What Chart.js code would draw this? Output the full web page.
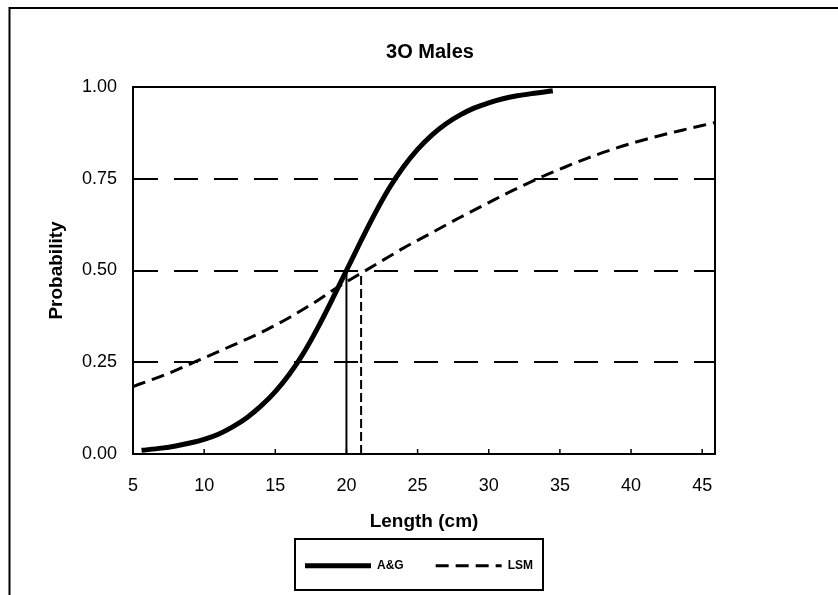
<!DOCTYPE html>
<html>
<head>
<meta charset="utf-8">
<script src="https://cdn.jsdelivr.net/npm/chart.js@4"></script>
<style>
  html, body { margin: 0; padding: 0; background: #fff; }
  canvas { display: block; }
</style>
</head>
<body>
<canvas id="c" width="838" height="595"></canvas>
<script>
const chartTitle = '3O Males';
const xTitle = 'Length (cm)';
const yTitle = 'Probability';
const seriesNames = ['A&G', 'LSM'];

const agLength = [5.6, 7, 8, 9, 10, 11, 12, 13, 14, 15, 16, 17, 18, 19, 20, 21, 22, 23, 24, 25, 26, 27, 28, 29, 30, 31, 32, 33, 34, 34.5];
const agProb   = [0.010, 0.016, 0.022, 0.030, 0.040, 0.054, 0.074, 0.099, 0.131, 0.170, 0.218, 0.276, 0.345, 0.421, 0.500, 0.579, 0.655, 0.724, 0.782, 0.830, 0.869, 0.900, 0.924, 0.943, 0.957, 0.968, 0.976, 0.982, 0.987, 0.990];

const lsmLength = [5, 6, 7, 8, 9, 10, 11, 12, 13, 14, 15, 16, 17, 18, 19, 20, 21, 22, 23, 24, 25, 26, 27, 28, 29, 30, 31, 32, 33, 34, 35, 36, 37, 38, 39, 40, 41, 42, 43, 44, 45, 45.9];
const lsmProb   = [0.184, 0.198, 0.212, 0.228, 0.245, 0.262, 0.279, 0.296, 0.313, 0.331, 0.351, 0.372, 0.395, 0.419, 0.445, 0.469, 0.492, 0.515, 0.538, 0.561, 0.582, 0.603, 0.624, 0.645, 0.665, 0.685, 0.705, 0.724, 0.742, 0.760, 0.776, 0.792, 0.807, 0.821, 0.834, 0.846, 0.857, 0.867, 0.877, 0.886, 0.895, 0.903];

// L50 markers (vertical drop lines)
const l50Length = [20.0, 21.03];
const l50Prob   = [0.50, 0.49];

const xMin = 5, xMax = 45.9, xStep = 5;
const yMin = 0, yMax = 1, yStep = 0.25;

const FONT = '"Liberation Sans", Arial, Helvetica, sans-serif';
Chart.defaults.font.family = FONT;
Chart.defaults.color = '#000';

const pts = (xs, ys) => xs.map((x, i) => ({x: x, y: ys[i]}));

const framePlugin = {
  id: 'framePlugin',
  afterDraw(chart) {
    const ctx = chart.ctx;
    const a = chart.chartArea;
    ctx.save();
    ctx.strokeStyle = '#000';
    ctx.lineWidth = 2;
    ctx.beginPath();
    ctx.moveTo(9.5, 595);
    ctx.lineTo(9.5, 8);
    ctx.lineTo(838, 8);
    ctx.stroke();
    ctx.beginPath();
    ctx.moveTo(a.left, a.top);
    ctx.lineTo(a.right, a.top);
    ctx.lineTo(a.right, a.bottom);
    ctx.stroke();
    const xs = chart.scales.x;
    ctx.lineWidth = 1.5;
    xs.ticks.forEach(t => {
      const px = xs.getPixelForValue(t.value);
      if (px <= a.left + 1) return;
      ctx.beginPath();
      ctx.moveTo(px, a.bottom);
      ctx.lineTo(px, a.bottom - 5);
      ctx.stroke();
    });
    ctx.font = 'bold 20px ' + FONT;
    ctx.textAlign = 'center';
    ctx.textBaseline = 'middle';
    ctx.fillStyle = '#000';
    ctx.fillText(chartTitle, 430, 52);
    const lg = chart.legend;
    if (lg && lg.legendHitBoxes && lg.legendHitBoxes.length) {
      const hb = lg.legendHitBoxes;
      const left = hb[0].left - 10;
      const last = hb[hb.length - 1];
      const right = last.left + last.width + 10;
      const cy = lg.top + lg.options.labels.padding + 6;
      ctx.lineWidth = 2;
      ctx.strokeRect(left, cy - 26.7, right - left, 51);
    }
    ctx.restore();
  }
};

new Chart(document.getElementById('c'), {
  type: 'line',
  data: {
    datasets: [
      {
        label: seriesNames[0],
        data: pts(agLength, agProb),
        borderColor: '#000',
        backgroundColor: '#000',
        borderWidth: 5,
        pointRadius: 0,
        cubicInterpolationMode: 'monotone',
        fill: false
      },
      {
        label: seriesNames[1],
        data: pts(lsmLength, lsmProb),
        borderColor: '#000',
        backgroundColor: '#000',
        borderWidth: 3,
        borderDash: [13, 7],
        pointRadius: 0,
        cubicInterpolationMode: 'monotone',
        fill: false
      },
      {
        label: 'L50 A&G',
        data: [{x: l50Length[0], y: 0}, {x: l50Length[0], y: l50Prob[0]}],
        borderColor: '#000',
        borderWidth: 2,
        pointRadius: 0,
        fill: false
      },
      {
        label: 'L50 LSM',
        data: [{x: l50Length[1], y: 0}, {x: l50Length[1], y: l50Prob[1]}],
        borderColor: '#000',
        borderWidth: 2,
        borderDash: [9, 4],
        pointRadius: 0,
        fill: false
      }
    ]
  },
  options: {
    responsive: false,
    animation: false,
    devicePixelRatio: 1,
    layout: { padding: { left: 0, right: 0, top: 87, bottom: 13.3 } },
    scales: {
      x: {
        type: 'linear',
        min: xMin,
        max: xMax,
        afterFit(s) { s.height = 73.7; },
        ticks: {
          stepSize: xStep,
          includeBounds: false,
          padding: 21,
          font: { size: 18 },
          color: '#000',
          maxRotation: 0
        },
        grid: { display: false, drawTicks: false },
        border: { display: true, color: '#000', width: 2 },
        title: {
          display: true,
          text: xTitle,
          font: { size: 19, weight: 'bold' },
          color: '#000',
          padding: { top: 0, bottom: -5 }
        }
      },
      y: {
        type: 'linear',
        min: yMin,
        max: yMax,
        afterFit(s) { s.width = 133; },
        ticks: {
          stepSize: yStep,
          padding: 16,
          font: { size: 18 },
          color: '#000',
          callback: v => Number(v).toFixed(2)
        },
        grid: {
          drawTicks: false,
          lineWidth: 2,
          color: c => (c.tick && (c.tick.value === yMin || c.tick.value === yMax)) ? 'rgba(0,0,0,0)' : '#000'
        },
        border: { display: true, color: '#000', width: 2, dash: [24, 16] },
        title: {
          display: true,
          text: yTitle,
          font: { size: 19, weight: 'bold' },
          color: '#000',
          padding: { top: 45.6, bottom: 0 }
        }
      },
      yR: {
        type: 'linear',
        position: 'right',
        display: true,
        afterFit(s) { s.width = 123; },
        ticks: { display: false },
        grid: { display: false, drawTicks: false },
        border: { display: false }
      }
    },
    plugins: {
      title: { display: false },
      tooltip: { enabled: false },
      legend: {
        display: true,
        position: 'bottom',
        labels: {
          generateLabels(chart) {
            const items = Chart.defaults.plugins.legend.labels.generateLabels(chart);
            return items.map(it => {
              const ds = chart.data.datasets[it.datasetIndex];
              it.lineDash = ds.borderDash ? [13, 7] : [];
              it.lineWidth = ds.borderWidth;
              it.strokeStyle = '#000';
              return it;
            });
          },
          filter: item => item.datasetIndex < 2,
          usePointStyle: true,
          pointStyle: 'line',
          pointStyleWidth: 66,
          padding: 32,
          color: '#000',
          font: { size: 12, weight: 'bold' }
        }
      }
    }
  },
  plugins: [framePlugin]
});
</script>
</body>
</html>
